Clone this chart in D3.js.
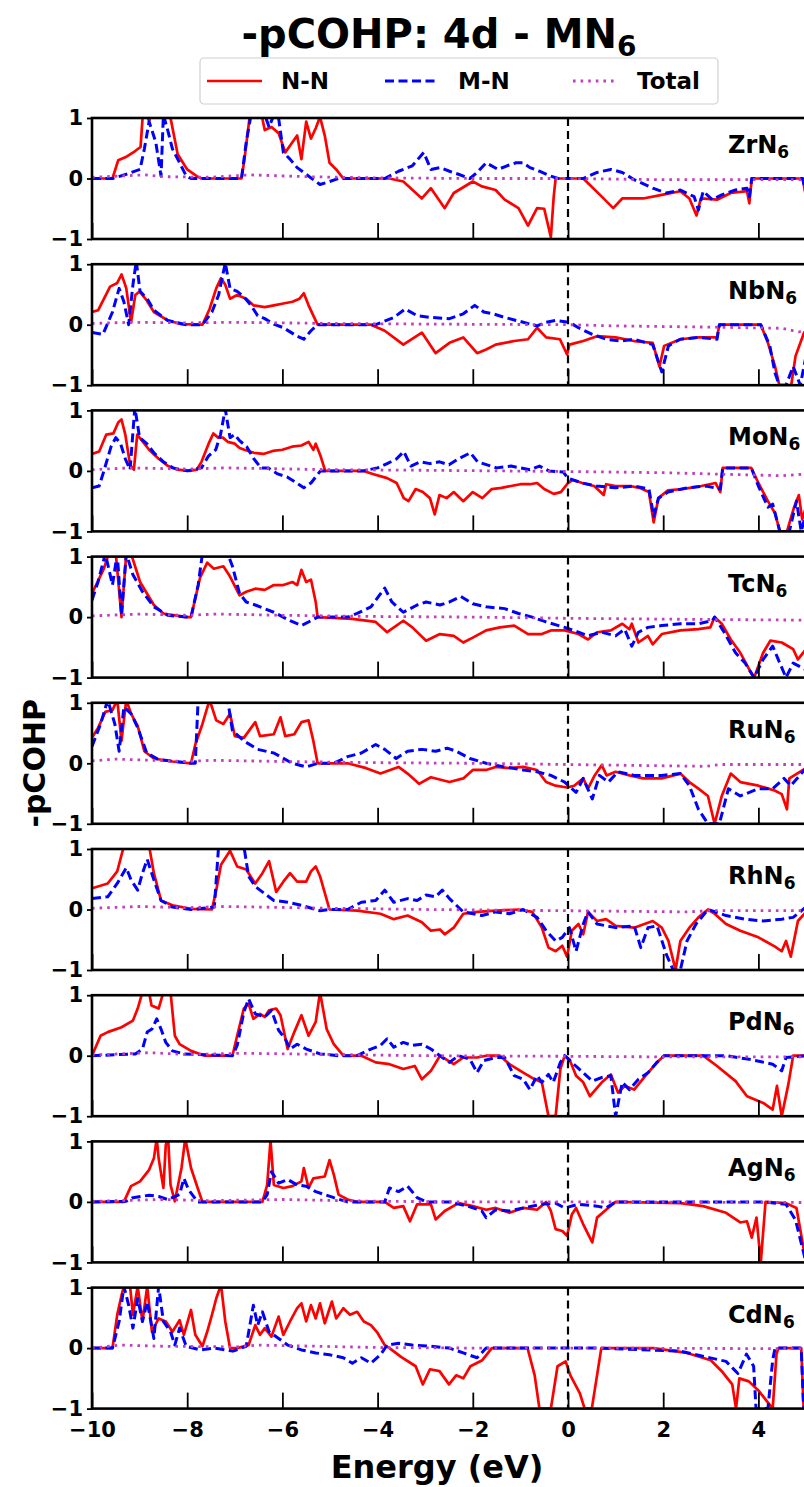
<!DOCTYPE html>
<html>
<head>
<meta charset="utf-8">
<script src="https://cdn.jsdelivr.net/npm/d3@7"></script>
<style>
  body { margin: 0; background: #fff; }
  text { font-family: "DejaVu Sans", sans-serif; font-weight: bold; }
</style>
</head>
<body>
<div id="chart"></div>
<script>
// tick labels and panel names
const energyTicks = [-10, -8, -6, -4, -2, 0, 2, 4];
const cohpTicks = [-1, 0, 1];
const metals = ["Zr", "Nb", "Mo", "Tc", "Ru", "Rh", "Pd", "Ag", "Cd"];
const seriesNames = ["N-N", "M-N", "Total"];

// [energy, -pCOHP]
const nnZr = [[-10,0],[-9.57,0],[-9.45,0.3],[-9.3,0.35],[-9.1,0.45],[-8.98,0.52],[-8.92,1.2],[-8.8,0.95],[-8.7,1.2],[-8.4,1.2],[-8.2,0.4],[-8.0,0.15],[-7.8,0.04],[-7.7,0],[-6.86,0],[-6.8,0.3],[-6.66,1.2],[-6.45,1.1],[-6.37,0.8],[-6.23,0.85],[-6.08,0.75],[-5.94,0.43],[-5.79,0.6],[-5.69,0.71],[-5.6,0.32],[-5.5,0.94],[-5.4,0.66],[-5.3,0.83],[-5.21,1.02],[-5.11,0.71],[-5.01,0.26],[-4.87,0.15],[-4.72,0],[-3.75,0],[-3.46,-0.05],[-3.07,-0.33],[-2.88,-0.16],[-2.59,-0.49],[-2.4,-0.24],[-2.0,-0.05],[-1.81,-0.13],[-1.52,-0.19],[-1.33,-0.35],[-1.04,-0.49],[-0.84,-0.78],[-0.65,-0.49],[-0.5,-0.5],[-0.36,-0.97],[-0.3,-0.3],[-0.26,0],[0.32,0],[0.45,-0.1],[0.71,-0.3],[0.95,-0.49],[1.14,-0.33],[1.58,-0.33],[1.97,-0.27],[2.36,-0.21],[2.55,-0.33],[2.7,-0.61],[2.79,-0.33],[3.13,-0.35],[3.42,-0.24],[3.76,-0.21],[3.81,-0.41],[3.86,0],[4.93,0],[5.0,-0.3]];
const mnZr = [[-10,0],[-9.57,0],[-9.28,0.07],[-8.99,0.15],[-8.9,0.49],[-8.8,0.94],[-8.66,0.6],[-8.55,0.04],[-8.5,1.05],[-8.4,0.77],[-8.31,0.49],[-8.16,0.26],[-8.02,0.04],[-7.92,0],[-6.86,0],[-6.76,0.6],[-6.66,1.05],[-6.37,1.05],[-6.28,0.85],[-6.18,1.05],[-6.08,1.0],[-5.98,0.43],[-5.84,0.32],[-5.69,0.18],[-5.5,0.07],[-5.3,-0.05],[-5.21,-0.1],[-5.01,-0.05],[-4.82,0],[-3.85,0],[-3.56,0.12],[-3.27,0.21],[-3.03,0.43],[-2.88,0.15],[-2.69,0.18],[-2.49,0.12],[-2.3,0.07],[-2.06,0],[-1.91,0.1],[-1.72,0.26],[-1.47,0.15],[-1.28,0.21],[-1.09,0.26],[-0.94,0.26],[-0.8,0.18],[-0.6,0.12],[-0.36,0.04],[-0.21,0],[0.32,0],[0.61,0.1],[0.9,0.15],[1.14,0.1],[1.39,-0.02],[1.78,-0.16],[2.07,-0.24],[2.36,-0.19],[2.65,-0.3],[2.74,-0.52],[2.84,-0.21],[3.03,-0.35],[3.23,-0.27],[3.52,-0.19],[3.76,-0.16],[3.81,-0.3],[3.86,0],[4.93,0],[5.0,-0.25]];
const totZr = [[-10,0.02],[-8.9,0.06],[-8.5,0.03],[-7.5,0.02],[-6.7,0.06],[-5.5,0.03],[-4,0.01],[-2,0],[0,0],[2,-0.02],[5,-0.02]];

const nnNb = [[-10,0.21],[-9.87,0.24],[-9.62,0.63],[-9.47,0.69],[-9.38,0.83],[-9.33,0.72],[-9.28,0.6],[-9.18,0.04],[-9.09,0.49],[-9.0,0.55],[-8.85,0.4],[-8.7,0.21],[-8.41,0.07],[-8.12,0.01],[-7.68,0],[-7.53,0.26],[-7.39,0.6],[-7.29,0.77],[-7.2,0.66],[-7.1,0.43],[-6.95,0.49],[-6.76,0.43],[-6.61,0.32],[-6.37,0.29],[-6.18,0.32],[-5.98,0.35],[-5.79,0.38],[-5.64,0.43],[-5.55,0.52],[-5.45,0.32],[-5.35,0.15],[-5.26,0],[-4.14,0],[-3.85,-0.1],[-3.46,-0.33],[-3.07,-0.13],[-2.78,-0.47],[-2.49,-0.3],[-2.2,-0.21],[-1.91,-0.47],[-1.72,-0.41],[-1.52,-0.33],[-1.13,-0.27],[-0.84,-0.24],[-0.65,-0.05],[-0.46,-0.21],[-0.17,-0.24],[-0.02,-0.49],[0.03,-0.33],[0.32,-0.27],[0.61,-0.19],[1.0,-0.21],[1.39,-0.27],[1.78,-0.3],[1.92,-0.69],[2.02,-0.35],[2.36,-0.24],[2.74,-0.21],[3.13,-0.21],[3.18,0],[4.05,0],[4.2,-0.3],[4.35,-0.69],[4.44,-1],[4.69,-1],[4.78,-0.52],[4.96,-0.13],[5,-0.1]];
const mnNb = [[-10,-0.13],[-9.77,-0.16],[-9.57,0.21],[-9.43,0.6],[-9.33,0.38],[-9.23,0],[-9.14,0.66],[-9.07,1.05],[-8.99,0.55],[-8.84,0.43],[-8.7,0.24],[-8.41,0.07],[-8.02,0],[-7.68,0],[-7.48,0.21],[-7.34,0.49],[-7.2,1.02],[-7.1,0.6],[-6.95,0.55],[-6.81,0.46],[-6.66,0.32],[-6.52,0.15],[-6.37,0.1],[-6.18,0.01],[-5.98,-0.05],[-5.69,-0.19],[-5.55,-0.24],[-5.4,-0.1],[-5.26,0],[-4.04,0],[-3.66,0.12],[-3.42,0.26],[-3.17,0.15],[-2.88,0.12],[-2.49,0.1],[-2.2,0.18],[-1.96,0.32],[-1.77,0.21],[-1.57,0.18],[-1.33,0.12],[-0.94,0.04],[-0.65,-0.02],[-0.46,0.04],[-0.26,0.07],[0.03,0.04],[0.22,-0.05],[0.51,-0.16],[0.8,-0.24],[1.09,-0.27],[1.39,-0.24],[1.78,-0.33],[1.97,-0.78],[2.11,-0.35],[2.36,-0.24],[2.74,-0.21],[3.13,-0.24],[3.18,0],[4.05,0],[4.24,-0.35],[4.35,-0.8],[4.44,-1],[4.58,-1],[4.73,-0.69],[4.88,-1],[5,-0.52]];
const totNb = [[-10,0.02],[-9.2,0.04],[-8,0.03],[-7,0.04],[-5,0.02],[-3,0.01],[0,0],[1,-0.02],[3,-0.04],[4.5,-0.06],[4.85,-0.12],[5,-0.08]];

const nnMo = [[-10,0.28],[-9.85,0.32],[-9.7,0.6],[-9.55,0.62],[-9.45,0.8],[-9.38,0.85],[-9.3,0.6],[-9.2,0.1],[-9.12,0.02],[-9.05,0.6],[-8.95,0.5],[-8.8,0.35],[-8.6,0.2],[-8.4,0.08],[-8.2,0.02],[-7.95,0],[-7.8,0.02],[-7.7,0.15],[-7.55,0.45],[-7.45,0.62],[-7.35,0.55],[-7.25,0.55],[-7.15,0.48],[-7.0,0.45],[-6.9,0.38],[-6.8,0.35],[-6.6,0.3],[-6.4,0.28],[-6.2,0.33],[-6.0,0.35],[-5.8,0.4],[-5.6,0.42],[-5.45,0.48],[-5.35,0.35],[-5.3,0.45],[-5.2,0.25],[-5.1,0],[-4.3,0],[-4.1,-0.05],[-3.8,-0.12],[-3.6,-0.2],[-3.45,-0.45],[-3.35,-0.5],[-3.2,-0.3],[-3.05,-0.35],[-2.9,-0.45],[-2.8,-0.72],[-2.7,-0.4],[-2.55,-0.45],[-2.4,-0.35],[-2.2,-0.5],[-2.0,-0.35],[-1.8,-0.45],[-1.6,-0.3],[-1.4,-0.28],[-1.2,-0.25],[-1.0,-0.22],[-0.8,-0.22],[-0.65,-0.2],[-0.5,-0.3],[-0.3,-0.38],[-0.15,-0.35],[0.0,-0.2],[0.1,-0.15],[0.3,-0.2],[0.55,-0.25],[0.75,-0.4],[0.8,-0.22],[1.0,-0.25],[1.3,-0.25],[1.5,-0.28],[1.7,-0.35],[1.8,-0.85],[1.9,-0.45],[2.1,-0.32],[2.4,-0.3],[2.8,-0.25],[3.1,-0.2],[3.2,-0.35],[3.25,0.05],[3.85,0.05],[4.0,-0.2],[4.2,-0.5],[4.35,-0.7],[4.45,-1],[4.6,-1],[4.75,-0.6],[4.85,-0.4],[4.92,-0.8],[5,-0.6]];
const mnMo = [[-10,-0.28],[-9.85,-0.25],[-9.75,0.0],[-9.6,0.4],[-9.5,0.55],[-9.4,0.45],[-9.3,0.2],[-9.2,0.02],[-9.1,1.05],[-9.0,0.55],[-8.85,0.45],[-8.7,0.3],[-8.5,0.15],[-8.3,0.05],[-8.0,0],[-7.7,0.05],[-7.55,0.25],[-7.4,0.35],[-7.3,0.6],[-7.2,1.02],[-7.1,0.55],[-7.0,0.6],[-6.9,0.5],[-6.75,0.4],[-6.6,0.2],[-6.45,0.05],[-6.3,0.05],[-6.1,-0.05],[-5.9,-0.1],[-5.7,-0.2],[-5.55,-0.28],[-5.4,-0.2],[-5.2,0],[-4.3,0],[-4.0,0.05],[-3.8,0.12],[-3.6,0.2],[-3.45,0.32],[-3.3,0.08],[-3.1,0.15],[-2.9,0.12],[-2.7,0.15],[-2.5,0.1],[-2.3,0.2],[-2.05,0.3],[-1.9,0.15],[-1.7,0.1],[-1.5,0.05],[-1.2,0.08],[-0.8,0.02],[-0.6,0.08],[-0.4,0.0],[-0.1,-0.02],[0.0,-0.12],[0.3,-0.2],[0.6,-0.25],[1.0,-0.28],[1.4,-0.25],[1.7,-0.3],[1.8,-0.75],[1.9,-0.45],[2.1,-0.35],[2.5,-0.28],[2.9,-0.25],[3.2,-0.3],[3.25,0.05],[3.85,0.05],[4.0,-0.25],[4.2,-0.6],[4.3,-0.55],[4.45,-1],[4.65,-1],[4.8,-0.5],[4.9,-1],[5,-0.7]];
const totMo = [[-10,0.02],[-9.2,0.05],[-8,0.03],[-7.2,0.05],[-5,0.02],[-3,0.01],[0,-0.01],[2,-0.03],[4.5,-0.08],[5,-0.05]];

const nnTc = [[-10,0.39],[-9.75,0.8],[-9.65,1.05],[-9.5,1.05],[-9.38,0.0],[-9.28,1.05],[-9.18,1.05],[-8.99,0.58],[-8.7,0.2],[-8.5,0.06],[-8.02,0],[-7.92,0],[-7.73,0.65],[-7.58,0.9],[-7.44,0.8],[-7.24,0.84],[-7.1,0.67],[-6.9,0.36],[-6.76,0.42],[-6.57,0.47],[-6.37,0.45],[-6.18,0.53],[-5.98,0.53],[-5.79,0.58],[-5.69,0.53],[-5.6,0.78],[-5.5,0.58],[-5.4,0.62],[-5.3,0.25],[-5.26,0],[-4.53,-0.03],[-4.04,-0.08],[-3.8,-0.25],[-3.46,-0.06],[-3.27,-0.17],[-2.98,-0.39],[-2.69,-0.28],[-2.4,-0.31],[-2.2,-0.42],[-2.0,-0.34],[-1.72,-0.22],[-1.43,-0.17],[-1.13,-0.14],[-0.84,-0.28],[-0.55,-0.28],[-0.36,-0.22],[-0.07,-0.22],[0.22,-0.28],[0.42,-0.37],[0.61,-0.25],[0.9,-0.22],[1.14,-0.11],[1.29,-0.2],[1.34,-0.11],[1.48,-0.42],[1.68,-0.31],[1.78,-0.45],[1.97,-0.28],[2.36,-0.22],[2.74,-0.2],[2.99,-0.17],[3.08,0],[3.23,-0.11],[3.42,-0.37],[3.62,-0.59],[3.81,-0.87],[3.91,-1],[4.1,-0.59],[4.25,-0.39],[4.49,-0.42],[4.73,-0.53],[4.83,-0.7],[5,-0.53]];
const mnTc = [[-10,0.28],[-9.87,0.59],[-9.72,1.05],[-9.57,0.53],[-9.47,1.05],[-9.38,0.03],[-9.28,1.05],[-9.14,0.7],[-8.94,0.42],[-8.7,0.17],[-8.41,0.03],[-8.02,0],[-7.92,0],[-7.77,0.53],[-7.68,1.05],[-7.15,1.05],[-7.05,0.84],[-6.9,0.39],[-6.76,0.25],[-6.57,0.2],[-6.18,0.08],[-5.84,-0.06],[-5.6,-0.14],[-5.4,-0.06],[-5.26,0],[-4.63,0],[-4.43,0.06],[-4.14,0.17],[-3.85,0.48],[-3.7,0.25],[-3.46,0.08],[-3.17,0.2],[-2.98,0.25],[-2.69,0.2],[-2.49,0.25],[-2.25,0.34],[-2.0,0.22],[-1.72,0.17],[-1.33,0.14],[-1.04,0.06],[-0.75,0],[-0.46,-0.08],[-0.07,-0.17],[0.22,-0.25],[0.42,-0.31],[0.71,-0.25],[1.0,-0.31],[1.19,-0.2],[1.34,-0.48],[1.48,-0.25],[1.68,-0.17],[1.97,-0.14],[2.36,-0.11],[2.74,-0.11],[3.03,-0.06],[3.08,0],[3.28,-0.25],[3.52,-0.59],[3.72,-0.76],[3.91,-1],[4.1,-0.7],[4.3,-0.48],[4.39,-0.65],[4.58,-1],[4.73,-0.76],[5,-0.87]];
const totTc = [[-10,0.02],[-9,0.05],[-8,0.03],[-7.4,0.05],[-6,0.03],[-4,0.01],[-2,0],[0,-0.02],[3,-0.04],[5,-0.05]];

const nnRu = [[-10,0.42],[-9.87,0.59],[-9.72,0.85],[-9.57,0.88],[-9.47,1.05],[-9.38,0.37],[-9.28,1.05],[-9.18,0.82],[-9.04,0.62],[-8.9,0.2],[-8.7,0.08],[-8.31,0.03],[-7.92,0],[-7.83,0.31],[-7.68,0.65],[-7.53,1.05],[-7.39,0.71],[-7.24,0.65],[-7.1,0.82],[-7.0,0.45],[-6.81,0.42],[-6.57,0.68],[-6.47,0.45],[-6.18,0.48],[-6.04,0.76],[-5.94,0.45],[-5.75,0.48],[-5.6,0.68],[-5.45,0.71],[-5.35,0.37],[-5.26,0],[-4.63,0],[-4.24,-0.08],[-3.94,-0.17],[-3.56,-0.06],[-3.37,-0.17],[-3.13,-0.34],[-2.88,-0.23],[-2.49,-0.31],[-2.2,-0.25],[-2.0,-0.11],[-1.72,-0.11],[-1.52,-0.06],[-1.23,-0.08],[-0.94,-0.06],[-0.65,-0.11],[-0.46,-0.31],[-0.26,-0.37],[-0.02,-0.4],[0.13,-0.37],[0.32,-0.25],[0.42,-0.42],[0.56,-0.2],[0.71,-0.03],[0.81,-0.2],[1.0,-0.14],[1.29,-0.2],[1.58,-0.25],[1.97,-0.25],[2.36,-0.17],[2.55,-0.31],[2.74,-0.42],[2.94,-0.54],[3.08,-1],[3.23,-0.54],[3.42,-0.17],[3.62,-0.31],[4.0,-0.37],[4.34,-0.45],[4.49,-0.51],[4.6,-0.76],[4.65,-0.25],[5,-0.08]];
const mnRu = [[-10,0.28],[-9.82,0.65],[-9.67,1.05],[-9.52,0.65],[-9.43,0.2],[-9.33,0.93],[-9.18,0.82],[-9.04,0.59],[-8.85,0.17],[-8.6,0.06],[-7.92,0],[-7.83,0],[-7.77,1.05],[-7.15,1.05],[-7.05,0.54],[-6.81,0.37],[-6.52,0.23],[-6.18,0.17],[-5.79,0],[-5.5,-0.06],[-5.26,0],[-4.92,0],[-4.63,0.11],[-4.34,0.17],[-4.04,0.31],[-3.85,0.23],[-3.61,0.08],[-3.37,0.2],[-3.07,0.23],[-2.78,0.2],[-2.54,0.25],[-2.35,0.2],[-2.06,0.08],[-1.72,0],[-1.33,-0.06],[-0.94,-0.11],[-0.65,-0.14],[-0.36,-0.2],[-0.07,-0.31],[0.17,-0.48],[0.32,-0.25],[0.51,-0.59],[0.66,-0.2],[0.85,-0.31],[1.05,-0.14],[1.39,-0.2],[1.97,-0.2],[2.36,-0.17],[2.55,-0.37],[2.74,-0.76],[2.94,-1],[3.18,-1],[3.37,-0.42],[3.62,-0.54],[4.0,-0.42],[4.3,-0.42],[4.54,-0.25],[4.68,-0.37],[5,-0.08]];
const totRu = [[-10,0.04],[-9.5,0.07],[-8,0.03],[-7.5,0.05],[-6,0.03],[-4,0.01],[-2,0],[0,-0.02],[2.9,-0.05],[3.2,-0.02],[5,-0.02]];

const nnRh = [[-10,0.35],[-9.67,0.43],[-9.47,0.63],[-9.33,1.05],[-8.8,1.05],[-8.7,0.6],[-8.55,0.15],[-8.31,0.07],[-7.92,0.01],[-7.48,0],[-7.39,0.32],[-7.29,0.74],[-7.1,0.97],[-6.95,0.71],[-6.76,0.66],[-6.57,0.43],[-6.42,0.6],[-6.28,0.8],[-6.13,0.29],[-5.98,0.46],[-5.84,0.6],[-5.69,0.46],[-5.5,0.46],[-5.4,0.63],[-5.3,0.71],[-5.21,0.55],[-5.01,0],[-4.43,-0.02],[-3.94,-0.07],[-3.66,-0.16],[-3.37,-0.1],[-3.07,-0.21],[-2.88,-0.35],[-2.69,-0.33],[-2.59,-0.41],[-2.4,-0.3],[-2.2,-0.07],[-1.91,-0.04],[-1.52,-0.02],[-1.04,0],[-0.75,-0.04],[-0.55,-0.3],[-0.41,-0.63],[-0.26,-0.69],[-0.12,-0.6],[-0.02,-0.78],[0.08,-0.35],[0.22,-0.24],[0.32,-0.41],[0.42,-0.04],[0.61,-0.19],[0.8,-0.16],[1.0,-0.27],[1.39,-0.3],[1.78,-0.19],[1.97,-0.3],[2.11,-0.52],[2.26,-1],[2.36,-0.52],[2.55,-0.3],[2.74,-0.13],[2.94,0],[3.08,-0.07],[3.32,-0.24],[3.62,-0.35],[4.0,-0.46],[4.34,-0.61],[4.49,-0.69],[4.58,-0.52],[4.68,-0.78],[4.83,-0.19],[5,-0.04]];
const mnRh = [[-10,0.18],[-9.67,0.21],[-9.47,0.43],[-9.28,0.69],[-9.18,0.49],[-9.04,0.32],[-8.94,0.6],[-8.84,0.83],[-8.7,0.49],[-8.55,0.15],[-8.31,0.04],[-7.92,0],[-7.43,0.04],[-7.34,1.05],[-6.81,1.05],[-6.71,0.55],[-6.57,0.38],[-6.37,0.26],[-6.18,0.15],[-5.89,0.12],[-5.6,0.07],[-5.21,-0.02],[-5.01,0],[-4.63,0],[-4.34,0.12],[-4.04,0.15],[-3.85,0.32],[-3.66,0.12],[-3.37,0.18],[-3.17,0.15],[-2.98,0.24],[-2.78,0.21],[-2.64,0.32],[-2.49,0.18],[-2.2,-0.04],[-1.81,-0.1],[-1.52,-0.04],[-1.23,-0.07],[-0.94,0],[-0.65,-0.13],[-0.46,-0.35],[-0.26,-0.52],[-0.12,-0.46],[0.03,-0.3],[0.17,-0.69],[0.32,-0.24],[0.42,-0.04],[0.61,-0.24],[1.0,-0.3],[1.39,-0.27],[1.53,-0.63],[1.68,-0.3],[1.87,-0.27],[2.07,-0.75],[2.21,-1],[2.36,-1],[2.5,-0.52],[2.69,-0.24],[2.94,0],[3.32,-0.1],[3.72,-0.16],[4.1,-0.19],[4.49,-0.16],[4.73,-0.13],[5,0.04]];
const totRh = [[-10,0.02],[-9,0.05],[-8,0.03],[-7.2,0.05],[-5,0.02],[-3,0],[0,-0.02],[2.5,-0.04],[3,-0.02],[5,-0.02]];

const nnPd = [[-10,0],[-9.82,0.33],[-9.67,0.39],[-9.38,0.47],[-9.14,0.58],[-9.04,0.78],[-8.94,1.05],[-8.8,1.05],[-8.75,0.83],[-8.6,0.78],[-8.5,1.05],[-8.35,1.05],[-8.26,0.33],[-8.16,0.19],[-7.92,0.08],[-7.63,0],[-7.05,0],[-6.95,0.33],[-6.81,0.78],[-6.71,0.86],[-6.61,0.61],[-6.47,0.69],[-6.37,0.64],[-6.28,0.75],[-6.13,0.78],[-6.04,0.67],[-5.89,0.11],[-5.75,0.39],[-5.6,0.67],[-5.45,0.33],[-5.3,0.56],[-5.21,1.05],[-5.07,0.44],[-4.92,0.19],[-4.72,0],[-4.34,0],[-4.04,-0.11],[-3.75,-0.14],[-3.46,-0.22],[-3.22,-0.17],[-3.07,-0.39],[-2.88,-0.25],[-2.69,0],[-2.4,-0.14],[-2.2,-0.03],[-1.91,-0.03],[-1.72,0],[-1.43,0],[-1.23,-0.14],[-0.94,-0.28],[-0.7,-0.39],[-0.55,-0.44],[-0.41,-1],[-0.26,-1],[-0.16,-0.22],[-0.07,0],[0.03,-0.06],[0.17,-0.33],[0.32,-0.44],[0.46,-0.67],[0.71,-0.44],[0.9,-0.31],[1.05,-0.61],[1.19,-0.5],[1.39,-0.56],[1.63,-0.33],[1.87,-0.11],[2.02,0],[2.84,0],[3.13,-0.17],[3.52,-0.42],[3.76,-0.67],[4.1,-0.78],[4.3,-0.89],[4.39,-0.5],[4.49,-1],[4.63,-0.47],[4.73,0],[5,0]];
const mnPd = [[-10,0],[-9.09,0.03],[-8.94,0.11],[-8.84,0.39],[-8.74,0.44],[-8.64,0.61],[-8.55,0.44],[-8.45,0.22],[-8.31,0.08],[-8.07,0.03],[-7.05,0],[-6.95,0.17],[-6.81,0.72],[-6.71,0.94],[-6.57,0.69],[-6.37,0.64],[-6.23,0.75],[-6.08,0.42],[-5.94,0.28],[-5.84,0.11],[-5.69,0.19],[-5.5,0.11],[-5.21,0.03],[-4.82,0],[-4.43,0],[-4.14,0.11],[-3.94,0.17],[-3.8,0.28],[-3.66,0.14],[-3.46,0.22],[-3.27,0.17],[-3.07,0.19],[-2.88,0.11],[-2.69,0],[-2.49,-0.11],[-2.3,0],[-2.06,-0.06],[-1.91,-0.28],[-1.77,-0.08],[-1.52,-0.03],[-1.33,-0.03],[-1.13,-0.33],[-0.94,-0.39],[-0.8,-0.56],[-0.65,-0.33],[-0.55,-0.44],[-0.41,-0.31],[-0.31,-0.44],[-0.16,-0.11],[-0.07,0],[0.08,-0.11],[0.32,-0.28],[0.51,-0.42],[0.71,-0.36],[0.9,-0.33],[1.0,-1],[1.14,-0.44],[1.29,-0.56],[1.48,-0.39],[1.68,-0.28],[1.87,-0.11],[2.02,0],[3.32,0],[3.81,-0.06],[4.3,-0.14],[4.49,-0.25],[4.58,-0.03],[5,0]];
const totPd = [[-10,0.01],[-8.8,0.05],[-8,0.02],[-6.8,0.04],[-5,0.02],[-3,0],[0,-0.01],[2,-0.02],[5,-0.02]];

const nnAg = [[-10,0],[-9.33,0],[-9.18,0.26],[-8.99,0.34],[-8.8,0.53],[-8.7,0.72],[-8.64,1.05],[-8.6,0.72],[-8.5,0.23],[-8.45,0.94],[-8.4,1.05],[-8.35,0.28],[-8.26,0.01],[-8.12,0.56],[-8.04,1.05],[-7.92,0.56],[-7.78,0.23],[-7.68,0],[-6.42,0],[-6.32,0.28],[-6.25,1.02],[-6.18,0.28],[-5.98,0.23],[-5.79,0.26],[-5.6,0.34],[-5.55,0.56],[-5.45,0.23],[-5.35,0.39],[-5.11,0.42],[-5.01,0.69],[-4.92,0.45],[-4.82,0.12],[-4.63,0.04],[-4.43,0],[-3.85,0],[-3.66,-0.1],[-3.46,-0.07],[-3.32,-0.32],[-3.17,-0.04],[-2.88,-0.04],[-2.78,-0.29],[-2.59,-0.15],[-2.3,-0.02],[-2.0,-0.07],[-1.72,-0.13],[-1.52,-0.1],[-1.23,-0.18],[-0.94,-0.1],[-0.65,-0.13],[-0.46,0],[-0.36,-0.15],[-0.26,-0.45],[-0.12,-0.48],[-0.02,-0.56],[0.08,-0.21],[0.17,-0.1],[0.32,-0.37],[0.51,-0.67],[0.61,-0.26],[0.8,-0.13],[1.0,0],[2.36,-0.02],[2.84,-0.07],[3.32,-0.18],[3.62,-0.34],[3.76,-0.32],[3.86,-0.59],[3.96,-0.26],[4.05,-1],[4.15,0],[4.58,-0.02],[4.8,-0.1],[5,-1]];
const mnAg = [[-10,0],[-9.28,0.01],[-9.14,0.07],[-8.8,0.11],[-8.6,0.09],[-8.41,0.04],[-8.16,0.12],[-8.07,0.39],[-7.97,0.2],[-7.78,0],[-6.42,0],[-6.32,0.12],[-6.23,0.5],[-6.08,0.31],[-5.89,0.37],[-5.69,0.28],[-5.5,0.26],[-5.3,0.17],[-5.11,0.12],[-4.92,0.07],[-4.63,0],[-3.85,0],[-3.75,0.23],[-3.56,0.17],[-3.37,0.26],[-3.17,0.07],[-2.98,0],[-2.49,0],[-2.1,-0.07],[-1.81,-0.15],[-1.72,-0.26],[-1.52,-0.13],[-1.23,-0.15],[-0.94,-0.1],[-0.55,-0.04],[-0.26,-0.02],[-0.07,-0.1],[0.22,-0.04],[0.61,-0.07],[0.8,-0.1],[1.0,0],[4.1,0],[4.58,-0.04],[4.78,-0.3],[5,-1]];
const totAg = [[-10,0.01],[-8.5,0.04],[-7.5,0.02],[-6,0.04],[-4,0.01],[-2,0],[0,0],[5,-0.01]];

const nnCd = [[-10,0],[-9.57,0],[-9.47,0.55],[-9.38,0.87],[-9.33,1.02],[-9.2,1.02],[-9.14,0.55],[-9.04,1.02],[-8.94,0.44],[-8.84,1.02],[-8.74,0.27],[-8.6,0.49],[-8.45,0.44],[-8.31,0.27],[-8.16,0.46],[-8.07,0.22],[-7.92,0.63],[-7.83,0.22],[-7.68,0.03],[-7.58,0.27],[-7.48,0.55],[-7.39,0.82],[-7.29,1.05],[-7.2,0.44],[-7.1,0],[-6.95,0],[-6.71,0.05],[-6.57,0.38],[-6.47,0.22],[-6.37,0.33],[-6.23,0.19],[-6.08,0.52],[-5.98,0.22],[-5.84,0.44],[-5.69,0.66],[-5.6,0.74],[-5.5,0.44],[-5.4,0.71],[-5.3,0.49],[-5.21,0.74],[-5.11,0.41],[-4.96,0.77],[-4.87,0.49],[-4.72,0.66],[-4.58,0.55],[-4.43,0.6],[-4.29,0.44],[-4.14,0.38],[-4.0,0.25],[-3.85,0.05],[-3.75,0],[-3.5,-0.15],[-3.2,-0.3],[-3.05,-0.6],[-2.9,-0.35],[-2.7,-0.38],[-2.5,-0.6],[-2.35,-0.45],[-2.2,-0.5],[-2.05,-0.3],[-1.8,-0.2],[-1.6,0],[-0.85,0],[-0.7,-0.45],[-0.6,-1],[-0.36,-1],[-0.22,-0.3],[-0.05,-0.22],[0.05,-0.45],[0.25,-0.75],[0.35,-1],[0.5,-1],[0.6,-0.5],[0.7,0],[1.8,0],[2.5,-0.08],[3.0,-0.2],[3.25,-0.4],[3.45,-0.6],[3.53,-1],[3.6,-0.5],[3.8,-0.55],[4.0,-0.7],[4.3,-1],[4.38,-0.1],[4.42,0],[4.9,0],[4.95,-1],[5,-1]];
const mnCd = [[-10,0],[-9.57,0],[-9.43,0.44],[-9.33,1.02],[-9.23,0.71],[-9.14,0.33],[-9.04,0.82],[-8.94,0.44],[-8.84,0.77],[-8.7,0.16],[-8.6,1.02],[-8.5,0.44],[-8.35,0.27],[-8.26,0.05],[-8.16,0.33],[-8.02,0.03],[-7.73,-0.03],[-7.43,0],[-7.04,-0.05],[-6.76,0.03],[-6.61,0.71],[-6.52,0.38],[-6.42,0.6],[-6.28,0.27],[-6.08,0.16],[-5.89,0.05],[-5.6,-0.03],[-5.3,-0.08],[-5.01,-0.11],[-4.72,-0.16],[-4.53,-0.25],[-4.34,-0.16],[-4.14,-0.25],[-3.94,-0.11],[-3.8,0.05],[-3.56,0.08],[-3.27,0.05],[-2.88,0.03],[-2.49,0],[-2.2,-0.08],[-1.91,-0.16],[-1.72,0],[0.6,0],[2.36,-0.05],[3.32,-0.22],[3.57,-0.42],[3.75,-0.1],[3.9,-0.3],[3.95,-1],[4.2,-1],[4.3,-0.2],[4.35,0],[4.9,0],[4.95,-1],[5,-1]];
const totCd = [[-10,0],[-9.4,0.05],[-8.5,0.03],[-7,0.02],[-6.5,0.05],[-4,0.01],[-2,0],[0,0],[5,-0.01]];

const nnData = [nnZr, nnNb, nnMo, nnTc, nnRu, nnRh, nnPd, nnAg, nnCd];
const mnData = [mnZr, mnNb, mnMo, mnTc, mnRu, mnRh, mnPd, mnAg, mnCd];
const totData = [totZr, totNb, totMo, totTc, totRu, totRh, totPd, totAg, totCd];

const width = 804, height = 1487;
const left = 92, right = 806;
const firstTop = 118, step = 146.2, panelH = 121;

const svg = d3.select("#chart").append("svg")
              .attr("width", width)
              .attr("height", height);

const x = d3.scaleLinear().domain([-10, 5]).range([left, right]);

const styles = [
    {color: "#ff0000", width: 2.7, dash: null},
    {color: "#0000ff", width: 3, dash: "9,4.5"},
    {color: "#c03fc0", width: 2.8, dash: "2.6,5"}
];

// title
const title = svg.append("text")
                 .attr("x", (left + right) / 2 - 10)
                 .attr("y", 48)
                 .attr("text-anchor", "middle")
                 .style("font-size", "40px")
                 .text("-pCOHP: 4d - MN");
title.append("tspan").attr("dy", 8).style("font-size", "28px").text("6");

// legend
const legend = svg.append("g");
legend.append("rect")
      .attr("x", 200).attr("y", 58)
      .attr("width", 518).attr("height", 46)
      .attr("rx", 4)
      .attr("fill", "#fff")
      .attr("stroke", "#d0d0d0")
      .attr("stroke-width", 1.2);
const legendX = [[207, 262, 281], [385, 436, 458], [573, 617, 637]];
seriesNames.forEach(function (name, i) {
    legend.append("line")
          .attr("x1", legendX[i][0]).attr("x2", legendX[i][1])
          .attr("y1", 81).attr("y2", 81)
          .attr("stroke", styles[i].color)
          .attr("stroke-width", styles[i].width)
          .attr("stroke-dasharray", styles[i].dash);
    legend.append("text")
          .attr("x", legendX[i][2]).attr("y", 89)
          .style("font-size", "23px")
          .text(name);
});

metals.forEach(function (m, i) {
    const top = firstTop + i * step;
    const y = d3.scaleLinear().domain([-1, 1]).range([top + panelH, top]);
    const g = svg.append("g");

    g.append("clipPath").attr("id", "clip" + i)
     .append("rect")
     .attr("x", left).attr("y", top)
     .attr("width", right - left).attr("height", panelH);

    const line = d3.line()
                   .x(function (d) { return x(d[0]); })
                   .y(function (d) { return y(d[1]); });

    const plotG = g.append("g").attr("clip-path", "url(#clip" + i + ")");
    [nnData[i], mnData[i], totData[i]].forEach(function (series, k) {
        plotG.append("path")
             .datum(series)
             .attr("d", line)
             .attr("fill", "none")
             .attr("stroke", styles[k].color)
             .attr("stroke-width", styles[k].width)
             .attr("stroke-dasharray", styles[k].dash)
             .attr("stroke-linejoin", "round");
    });

    // Fermi level
    g.append("line")
     .attr("x1", x(0)).attr("x2", x(0))
     .attr("y1", top).attr("y2", top + panelH)
     .attr("stroke", "#000")
     .attr("stroke-width", 2.2)
     .attr("stroke-dasharray", "8,5");

    // x ticks (inward)
    const xAxis = g.append("g")
                   .attr("transform", "translate(0," + (top + panelH) + ")")
                   .call(d3.axisBottom(x).tickValues(energyTicks)
                           .tickSize(-16)
                           .tickFormat(i === metals.length - 1 ? d3.format("") : ""));
    xAxis.select(".domain").remove();
    xAxis.selectAll(".tick line").attr("stroke-width", 1.8);
    xAxis.selectAll("text")
         .attr("y", 10)
         .attr("dy", "0.9em")
         .style("font-size", "21px")
         .style("font-family", "DejaVu Sans")
         .style("font-weight", "bold")
         .attr("fill", "#000");

    const yAxis = g.append("g")
                   .attr("transform", "translate(" + left + ",0)")
                   .call(d3.axisLeft(y).tickValues(cohpTicks).tickSize(5).tickPadding(4)
                           .tickFormat(d3.format("d")));
    yAxis.select(".domain").remove();
    yAxis.selectAll(".tick line").attr("stroke-width", 1.8);
    yAxis.selectAll("text")
         .style("font-size", "21px")
         .style("font-family", "DejaVu Sans")
         .style("font-weight", "bold")
         .attr("fill", "#000");

    // frame
    g.append("rect")
     .attr("x", left).attr("y", top)
     .attr("width", right - left).attr("height", panelH)
     .attr("fill", "none")
     .attr("stroke", "#000")
     .attr("stroke-width", 2.6);

    const label = g.append("text")
                   .attr("x", 728).attr("y", top + 35)
                   .style("font-size", "24px")
                   .text(m + "N");
    label.append("tspan").attr("dy", 5).style("font-size", "17px").text("6");
});

svg.append("text")
   .attr("x", (left + right) / 2 - 12)
   .attr("y", 1478)
   .attr("text-anchor", "middle")
   .style("font-size", "32px")
   .text("Energy (eV)");

svg.append("text")
   .attr("transform", "translate(45," + (firstTop + (8 * step + panelH) / 2) + ") rotate(-90)")
   .attr("text-anchor", "middle")
   .style("font-size", "30px")
   .text("-pCOHP");
</script>
</body>
</html>
